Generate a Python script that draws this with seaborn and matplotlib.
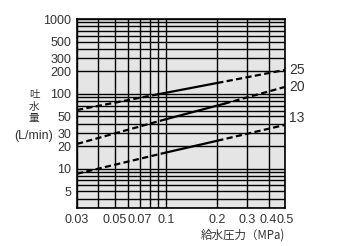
import matplotlib
matplotlib.use("Agg")
import matplotlib.pyplot as plt
import seaborn as sns
import numpy as np

# ---- data ----
pressure_25 = [0.03, 0.09, 0.2, 0.5]
flow_25 = [61, 99, 140, 209]
pressure_20 = [0.03, 0.1, 0.22, 0.5]
flow_20 = [21.5, 46, 74, 124]
pressure_13 = [0.03, 0.1, 0.2, 0.5]
flow_13 = [8.6, 16.5, 23.7, 38.6]
series_names = ["25", "20", "13"]

x_grid = [0.03, 0.04, 0.05, 0.06, 0.07, 0.08, 0.09, 0.1, 0.2, 0.3, 0.4, 0.5]
x_labels = ["0.03", "", "0.05", "", "0.07", "", "", "0.1", "0.2", "0.3", "0.4", "0.5"]
y_grid = [3, 4, 5, 6, 7, 8, 9, 10, 20, 30, 40, 50, 60, 70, 80, 90,
          100, 200, 300, 400, 500, 600, 700, 800, 900, 1000]
y_labels = ["", "", "5", "", "", "", "", "10", "20", "30", "", "50", "", "", "", "",
            "100", "200", "300", "", "500", "", "", "", "", "1000"]

sns.set_style("white")
plt.rcParams["font.family"] = ["Liberation Sans", "Noto Sans CJK JP", "DejaVu Sans"]

fig = plt.figure(figsize=(3.43, 2.46), dpi=100)
ax = fig.add_axes([77 / 343, 1 - 208 / 246, (285 - 77) / 343, (208 - 19) / 246])
ax.set_facecolor("#e5e5e5")

ax.set_xscale("log")
ax.set_yscale("log")
ax.set_xlim(0.03, 0.5)
ax.set_ylim(3, 1000)

for g in x_grid:
    ax.axvline(g, color="black", lw=1.0, zorder=1)
for g in y_grid:
    ax.axhline(g, color="black", lw=1.0, zorder=1)

dash = (0, (2.8, 1.5))
for xs, ys in [(pressure_25, flow_25), (pressure_20, flow_20), (pressure_13, flow_13)]:
    for i, ls in enumerate([dash, "-", dash]):
        sns.lineplot(x=xs[i:i + 2], y=ys[i:i + 2], ax=ax, color="black",
                     lw=1.6, linestyle=ls, sort=False, estimator=None, zorder=3)

ax.set_xticks(x_grid)
ax.set_xticklabels(x_labels)
ax.set_yticks(y_grid)
ax.set_yticklabels(y_labels)
ax.minorticks_off()
ax.tick_params(length=0, labelsize=9, colors="#333333", pad=4)

for s in ax.spines.values():
    s.set_visible(True)
    s.set_color("black")
    s.set_linewidth(1.2)

# series labels
label_y = [flow_25[-1], flow_20[-1], flow_13[-1] * 1.25]
for name, yv in zip(series_names, label_y):
    ax.text(1.02, yv, name, transform=ax.get_yaxis_transform(), fontsize=10,
            va="center", ha="left", color="#333333")

# y-axis label (stacked Japanese)
for ch, yp in zip(["吐", "水", "量"], [95.5, 107, 118.5]):
    fig.text(34 / 343, 1 - yp / 246, ch, fontsize=7.6, ha="center", va="center",
             family=["Noto Sans CJK JP", "DejaVu Sans"], color="#333333")
fig.text(34 / 343, 1 - 136 / 246, "(L/min)", fontsize=9, ha="center", va="center",
         color="#333333")

fig.text(285 / 343, 1 - 235 / 246, "給水圧力（MPa)", fontsize=8.3, ha="right", va="center",
         family=["Noto Sans CJK JP", "DejaVu Sans"], color="#333333")

fig.savefig("out.png", dpi=100)
